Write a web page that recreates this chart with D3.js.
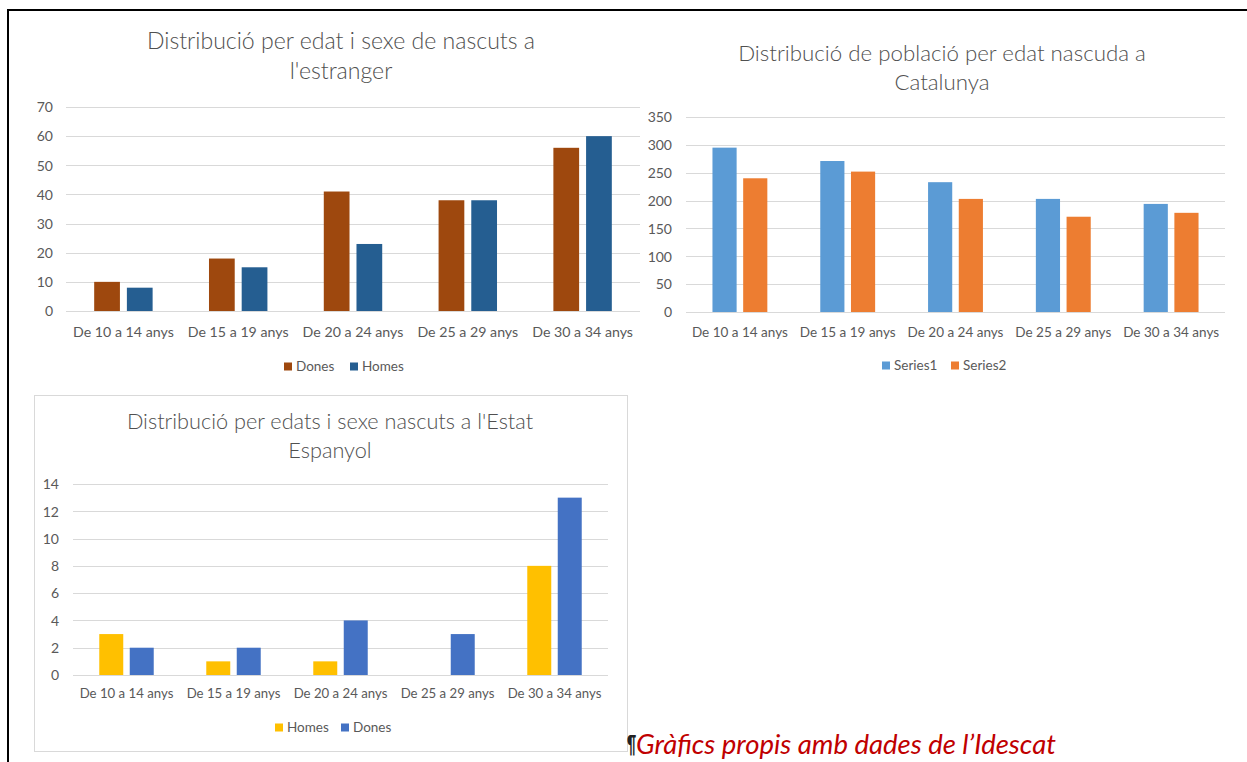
<!DOCTYPE html>
<html>
<head>
<meta charset="utf-8">
<script src="https://cdn.jsdelivr.net/npm/d3@7"></script>
<style>
  html, body { margin: 0; padding: 0; background: #ffffff; }
  svg { display: block; }
</style>
</head>
<body>
<svg id="chart" width="1247" height="762"></svg>
<script>
// ---------- DATA ----------
const categories = ["De 10 a 14 anys", "De 15 a 19 anys", "De 20 a 24 anys", "De 25 a 29 anys", "De 30 a 34 anys"];

const estrangerTitle = ["Distribució per edat i sexe de nascuts a", "l'estranger"];
const estrangerSeries = ["Dones", "Homes"];
const estrangerDones = [10, 18, 41, 38, 56];
const estrangerHomes = [8, 15, 23, 38, 60];
const estrangerTicks = [0, 10, 20, 30, 40, 50, 60, 70];

const catalunyaTitle = ["Distribució de població per edat nascuda a", "Catalunya"];
const catalunyaSeries = ["Series1", "Series2"];
const catalunyaSeries1 = [295, 271, 233, 203, 194];
const catalunyaSeries2 = [240, 252, 203, 171, 178];
const catalunyaTicks = [0, 50, 100, 150, 200, 250, 300, 350];

const espanyolTitle = ["Distribució per edats i sexe nascuts a l'Estat", "Espanyol"];
const espanyolSeries = ["Homes", "Dones"];
const espanyolHomes = [3, 1, 1, 0, 8];
const espanyolDones = [2, 2, 4, 3, 13];
const espanyolTicks = [0, 2, 4, 6, 8, 10, 12, 14];

const captionText = "Gràfics propis amb dades de l’Idescat";

// ---------- DRAWING ----------
const FONT = "Lato, 'Open Sans', sans-serif";
const TEXT = "#595959";
const GRID = "#d9d9d9";
const svg = d3.select("#chart");

// outer document border
svg.append("line").attr("x1", 7).attr("x2", 1247).attr("y1", 10).attr("y2", 10)
  .attr("stroke", "#000").attr("stroke-width", 2);
svg.append("line").attr("x1", 8).attr("x2", 8).attr("y1", 9).attr("y2", 762)
  .attr("stroke", "#000").attr("stroke-width", 2);

function drawChart(cfg) {
  const g = svg.append("g");
  if (cfg.frame) {
    g.append("rect").attr("x", cfg.frame[0] + 0.5).attr("y", cfg.frame[1] + 0.5)
      .attr("width", cfg.frame[2] - cfg.frame[0]).attr("height", cfg.frame[3] - cfg.frame[1])
      .attr("fill", "#fff").attr("stroke", GRID).attr("stroke-width", 1);
  }
  // title
  cfg.title.forEach((t, i) => {
    g.append("text").attr("x", cfg.titleX).attr("y", cfg.titleY + i * cfg.titleGap)
      .attr("text-anchor", "middle").attr("font-family", FONT).attr("font-weight", 300)
      .attr("font-size", cfg.titleSize).attr("fill", "#505050").text(t);
  });

  const y = d3.scaleLinear().domain([0, d3.max(cfg.ticks)]).range([cfg.y0, cfg.yTop]);
  const x0 = d3.scaleBand().domain(categories).range([cfg.x0, cfg.x1])
    .paddingInner(0.491).paddingOuter(0.2455);
  const x1 = d3.scaleBand().domain(cfg.series).range([0, x0.bandwidth()]).paddingInner(0.213);

  // y axis with gridlines
  const yAxis = d3.axisLeft(y).tickValues(cfg.ticks).tickSize(-(cfg.x1 - cfg.x0)).tickPadding(0);
  const ya = g.append("g").attr("transform", `translate(${cfg.x0},0)`).call(yAxis);
  ya.select(".domain").remove();
  ya.selectAll(".tick line").attr("stroke", GRID).attr("stroke-width", 1)
    .attr("shape-rendering", "crispEdges");
  ya.selectAll(".tick text").attr("x", cfg.labelRight - cfg.x0).attr("dy", "0.34em")
    .attr("font-family", FONT).attr("font-size", 14).attr("fill", TEXT);

  // x axis labels
  const xAxis = d3.axisBottom(x0).tickSize(0).tickPadding(0);
  const xa = g.append("g").attr("transform", `translate(0,${cfg.y0})`).call(xAxis);
  xa.select(".domain").remove();
  xa.selectAll(".tick text").attr("y", cfg.catBaseline - cfg.y0).attr("dy", 0)
    .attr("font-family", FONT).attr("font-size", cfg.catSize).attr("fill", TEXT);

  // bars
  const rows = categories.map((c, i) => ({ cat: c, vals: cfg.series.map((s, j) => ({ s, v: cfg.values[j][i] })) }));
  const color = d3.scaleOrdinal().domain(cfg.series).range(cfg.colors);
  g.append("g").selectAll("g").data(rows).join("g")
    .attr("transform", d => `translate(${x0(d.cat)},0)`)
    .selectAll("rect").data(d => d.vals).join("rect")
    .attr("x", d => x1(d.s)).attr("width", x1.bandwidth())
    .attr("y", d => y(d.v)).attr("height", d => y(0) - y(d.v))
    .attr("fill", d => color(d.s));

  // legend
  cfg.series.forEach((s, i) => {
    const lx = cfg.legendX[i];
    g.append("rect").attr("x", lx).attr("y", cfg.legendY - 8.5).attr("width", 8).attr("height", 8)
      .attr("fill", color(s));
    g.append("text").attr("x", lx + 12).attr("y", cfg.legendY)
      .attr("font-family", FONT).attr("font-size", 13.5).attr("fill", TEXT).text(s);
  });
}

drawChart({
  title: estrangerTitle, titleX: 341, titleY: 49, titleGap: 30, titleSize: 23.1,
  ticks: estrangerTicks, series: estrangerSeries, values: [estrangerDones, estrangerHomes],
  colors: ["#9e480e", "#255e91"],
  x0: 66, x1: 640, y0: 311, yTop: 107, labelRight: 53, catBaseline: 337, catSize: 14.2,
  legendX: [284, 350], legendY: 371
});

drawChart({
  title: catalunyaTitle, titleX: 942, titleY: 61, titleGap: 29, titleSize: 22.3,
  ticks: catalunyaTicks, series: catalunyaSeries, values: [catalunyaSeries1, catalunyaSeries2],
  colors: ["#5b9bd5", "#ed7d31"],
  x0: 686, x1: 1225, y0: 312, yTop: 117, labelRight: 672, catBaseline: 337, catSize: 13.5,
  legendX: [882, 951], legendY: 370
});

drawChart({
  frame: [34, 395, 627, 751],
  title: espanyolTitle, titleX: 330, titleY: 429, titleGap: 29, titleSize: 21.7,
  ticks: espanyolTicks, series: espanyolSeries, values: [espanyolHomes, espanyolDones],
  colors: ["#ffc000", "#4472c4"],
  x0: 73, x1: 608, y0: 675, yTop: 484, labelRight: 59, catBaseline: 698, catSize: 13.2,
  legendX: [275, 341], legendY: 732
});

// caption
svg.append("text").attr("transform", "translate(627,753) scale(0.5,1)").attr("font-family", FONT)
  .attr("font-size", 25).attr("font-weight", "bold").attr("fill", "#222").text("¶");
svg.append("text").attr("x", 636).attr("y", 754).attr("font-family", FONT)
  .attr("font-size", 27.5).attr("font-style", "italic").attr("fill", "#c00000").text(captionText);
</script>
</body>
</html>
